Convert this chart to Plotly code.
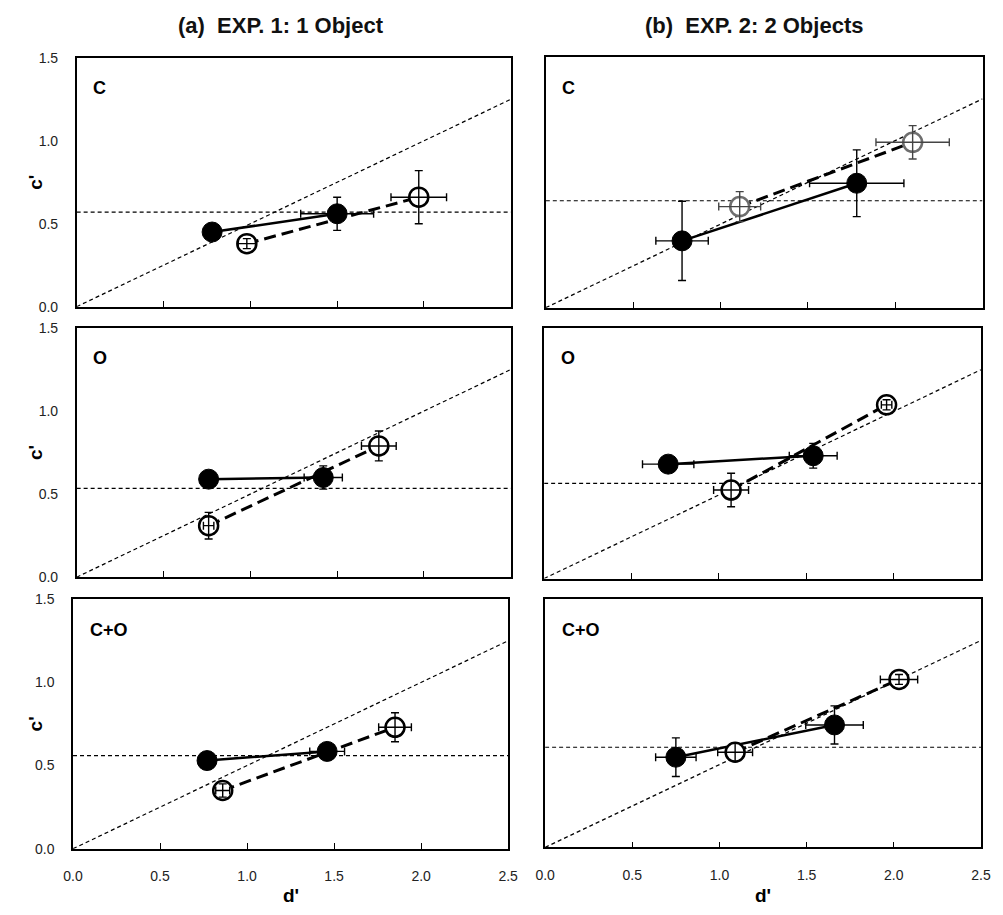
import plotly.graph_objects as go

W, H = 1003, 915

# ---------------- data ----------------
panel_labels = ["C", "O", "C+O"]
col_titles = ["<b>(a)\u00a0\u00a0EXP. 1: 1 Object</b>", "<b>(b)\u00a0\u00a0EXP. 2: 2 Objects</b>"]
x_ticks = [0.0, 0.5, 1.0, 1.5, 2.0, 2.5]
y_ticks = [0.0, 0.5, 1.0, 1.5]

diag_d = [0.0, 2.5]
diag_c = [0.0, 1.25]

hline_a = [0.57, 0.535, 0.56]
hline_b = [0.64, 0.57, 0.605]

# EXP 1 (column a)
aC_fill_d = [0.78, 1.50]; aC_fill_c = [0.45, 0.56]
aC_fill_ed = [0.02, 0.21]; aC_fill_ec = [0.02, 0.10]
aC_open_d = [0.98, 1.97]; aC_open_c = [0.38, 0.66]
aC_open_ed = [0.05, 0.16]; aC_open_ec = [0.03, 0.16]

aO_fill_d = [0.76, 1.42]; aO_fill_c = [0.59, 0.60]
aO_fill_ed = [0.02, 0.11]; aO_fill_ec = [0.02, 0.07]
aO_open_d = [0.76, 1.74]; aO_open_c = [0.31, 0.79]
aO_open_ed = [0.03, 0.10]; aO_open_ec = [0.08, 0.09]

aCO_fill_d = [0.77, 1.46]; aCO_fill_c = [0.53, 0.585]
aCO_fill_ed = [0.02, 0.10]; aCO_fill_ec = [0.02, 0.03]
aCO_open_d = [0.86, 1.85]; aCO_open_c = [0.35, 0.73]
aCO_open_ed = [0.04, 0.094]; aCO_open_ec = [0.04, 0.087]

# EXP 2 (column b)
bC_fill_d = [0.78, 1.78]; bC_fill_c = [0.40, 0.745]
bC_fill_ed = [0.15, 0.27]; bC_fill_ec = [0.237, 0.20]
bC_open_d = [1.11, 2.10]; bC_open_c = [0.605, 0.99]
bC_open_ed = [0.12, 0.21]; bC_open_ec = [0.09, 0.10]

bO_fill_d = [0.71, 1.54]; bO_fill_c = [0.685, 0.735]
bO_fill_ed = [0.147, 0.137]; bO_fill_ec = [0.02, 0.074]
bO_open_d = [1.07, 1.96]; bO_open_c = [0.53, 1.04]
bO_open_ed = [0.10, 0.03]; bO_open_ec = [0.10, 0.03]

bCO_fill_d = [0.75, 1.66]; bCO_fill_c = [0.545, 0.74]
bCO_fill_ed = [0.116, 0.165]; bCO_fill_ec = [0.117, 0.115]
bCO_open_d = [1.09, 2.03]; bCO_open_c = [0.575, 1.015]
bCO_open_ed = [0.10, 0.107]; bCO_open_ec = [0.055, 0.03]

# ---------------- layout geometry (pixels) ----------------
# (x0, x1, y_top, y_bottom)
geom = [
    (68, 511, 50.7, 304),
    (68, 511, 325.7, 579.3),
    (64.3, 508.3, 601.7, 855.7),
    (546.7, 992.3, 50, 305),
    (545, 990.7, 325.7, 580.7),
    (546, 990.7, 601.7, 854.3),
]

panels = [
    (aC_fill_d, aC_fill_c, aC_fill_ed, aC_fill_ec, aC_open_d, aC_open_c, aC_open_ed, aC_open_ec, hline_a[0]),
    (aO_fill_d, aO_fill_c, aO_fill_ed, aO_fill_ec, aO_open_d, aO_open_c, aO_open_ed, aO_open_ec, hline_a[1]),
    (aCO_fill_d, aCO_fill_c, aCO_fill_ed, aCO_fill_ec, aCO_open_d, aCO_open_c, aCO_open_ed, aCO_open_ec, hline_a[2]),
    (bC_fill_d, bC_fill_c, bC_fill_ed, bC_fill_ec, bC_open_d, bC_open_c, bC_open_ed, bC_open_ec, hline_b[0]),
    (bO_fill_d, bO_fill_c, bO_fill_ed, bO_fill_ec, bO_open_d, bO_open_c, bO_open_ed, bO_open_ec, hline_b[1]),
    (bCO_fill_d, bCO_fill_c, bCO_fill_ed, bCO_fill_ec, bCO_open_d, bCO_open_c, bCO_open_ed, bCO_open_ec, hline_b[2]),
]

FONT = "Liberation Sans, Arial, sans-serif"
fig = go.Figure()
layout = dict(
    width=W, height=H, autosize=False,
    margin=dict(l=0, r=0, t=0, b=0),
    paper_bgcolor="white", plot_bgcolor="white",
    showlegend=False,
    font=dict(family=FONT, color="#222"),
)
annotations = []

for i, (g, p) in enumerate(zip(geom, panels)):
    x0, x1, yt, yb = g
    n = i + 1
    xa = "x" if n == 1 else f"x{n}"
    ya = "y" if n == 1 else f"y{n}"
    col = 0 if i < 3 else 1
    row = i % 3
    fd, fc, fed, fec, od, oc, oed, oec, hv = p
    gray_open = (i == 3)
    open_col = "#6e6e6e" if gray_open else "black"
    err_open_col = "#444" if gray_open else "black"

    # reference lines
    fig.add_trace(go.Scatter(x=diag_d, y=diag_c, mode="lines", xaxis=xa, yaxis=ya,
                             line=dict(color="black", width=1.2, dash="4px,3px"), hoverinfo="skip"))
    fig.add_trace(go.Scatter(x=[0, 2.5], y=[hv, hv], mode="lines", xaxis=xa, yaxis=ya,
                             line=dict(color="black", width=1.2, dash="4px,3px"), hoverinfo="skip"))
    # filled series
    fig.add_trace(go.Scatter(x=fd, y=fc, mode="lines+markers", xaxis=xa, yaxis=ya,
                             line=dict(color="black", width=2.5),
                             marker=dict(size=20, color="black", line=dict(color="black", width=1)),
                             error_x=dict(type="data", array=fed, color="black", thickness=1.4, width=4),
                             error_y=dict(type="data", array=fec, color="black", thickness=1.4, width=4)))
    # open series
    fig.add_trace(go.Scatter(x=od, y=oc, mode="lines+markers", xaxis=xa, yaxis=ya,
                             line=dict(color="black", width=3, dash="12px,6px"),
                             marker=dict(size=19, color="white", line=dict(color=open_col, width=2.5))))
    # error bars drawn on top of the open markers
    fig.add_trace(go.Scatter(x=od, y=oc, mode="markers", xaxis=xa, yaxis=ya,
                             marker=dict(size=1, color="rgba(0,0,0,0)"),
                             error_x=dict(type="data", array=oed, color=err_open_col, thickness=1.4, width=4),
                             error_y=dict(type="data", array=oec, color=err_open_col, thickness=1.4, width=4)))

    xkey = "xaxis" if n == 1 else f"xaxis{n}"
    ykey = "yaxis" if n == 1 else f"yaxis{n}"
    layout[xkey] = dict(
        domain=[x0 / W, x1 / W], anchor=ya, range=[0, 2.5],
        tickvals=x_ticks, ticktext=[f"{v:.1f}" for v in x_ticks],
        ticks="inside", ticklen=6, tickwidth=1, tickcolor="black",
        showline=True, mirror=True, linecolor="black", linewidth=1.5,
        showgrid=False, zeroline=False,
        showticklabels=(row == 2), ticklabelstandoff=14,
        tickfont=dict(family=FONT, size=14, color="#222"),
    )
    layout[ykey] = dict(
        domain=[1 - yb / H, 1 - yt / H], anchor=xa, range=[0, 1.5],
        tickvals=y_ticks, ticktext=[f"{v:.1f}" for v in y_ticks],
        ticks="", showline=True, mirror=True, linecolor="black", linewidth=1.5,
        showgrid=False, zeroline=False,
        showticklabels=(col == 0), ticklabelstandoff=14,
        tickfont=dict(family=FONT, size=14, color="#222"),
    )
    # panel letter
    annotations.append(dict(text=f"<b>{panel_labels[row]}</b>", xref="paper", yref="paper",
                            x=(x0 + 15) / W, y=1 - (yt + 31) / H, xanchor="left", yanchor="middle",
                            showarrow=False, font=dict(family=FONT, size=18, color="black")))
    if col == 0:
        annotations.append(dict(text="<b>c'</b>", xref="paper", yref="paper",
                                x=26 / W, y=1 - ((yt + yb) / 2) / H, xanchor="center", yanchor="middle",
                                textangle=-90, showarrow=False,
                                font=dict(family=FONT, size=19, color="black")))
    if row == 2:
        annotations.append(dict(text="<b>d'</b>", xref="paper", yref="paper",
                                x=((x0 + x1) / 2) / W, y=1 - 903 / H, xanchor="center", yanchor="middle",
                                showarrow=False, font=dict(family=FONT, size=19, color="black")))

annotations.append(dict(text=col_titles[0], xref="paper", yref="paper", x=277 / W, y=1 - 18 / H,
                        xanchor="center", yanchor="middle", showarrow=False,
                        font=dict(family=FONT, size=22, color="#111")))
annotations.append(dict(text=col_titles[1], xref="paper", yref="paper", x=759 / W, y=1 - 18 / H,
                        xanchor="center", yanchor="middle", showarrow=False,
                        font=dict(family=FONT, size=22, color="#111")))

layout["annotations"] = annotations
fig.update_layout(**layout)
fig.write_html("out.html", config={"displayModeBar": False},
               post_script="document.body.style.margin='0';document.body.style.overflow='hidden';")
